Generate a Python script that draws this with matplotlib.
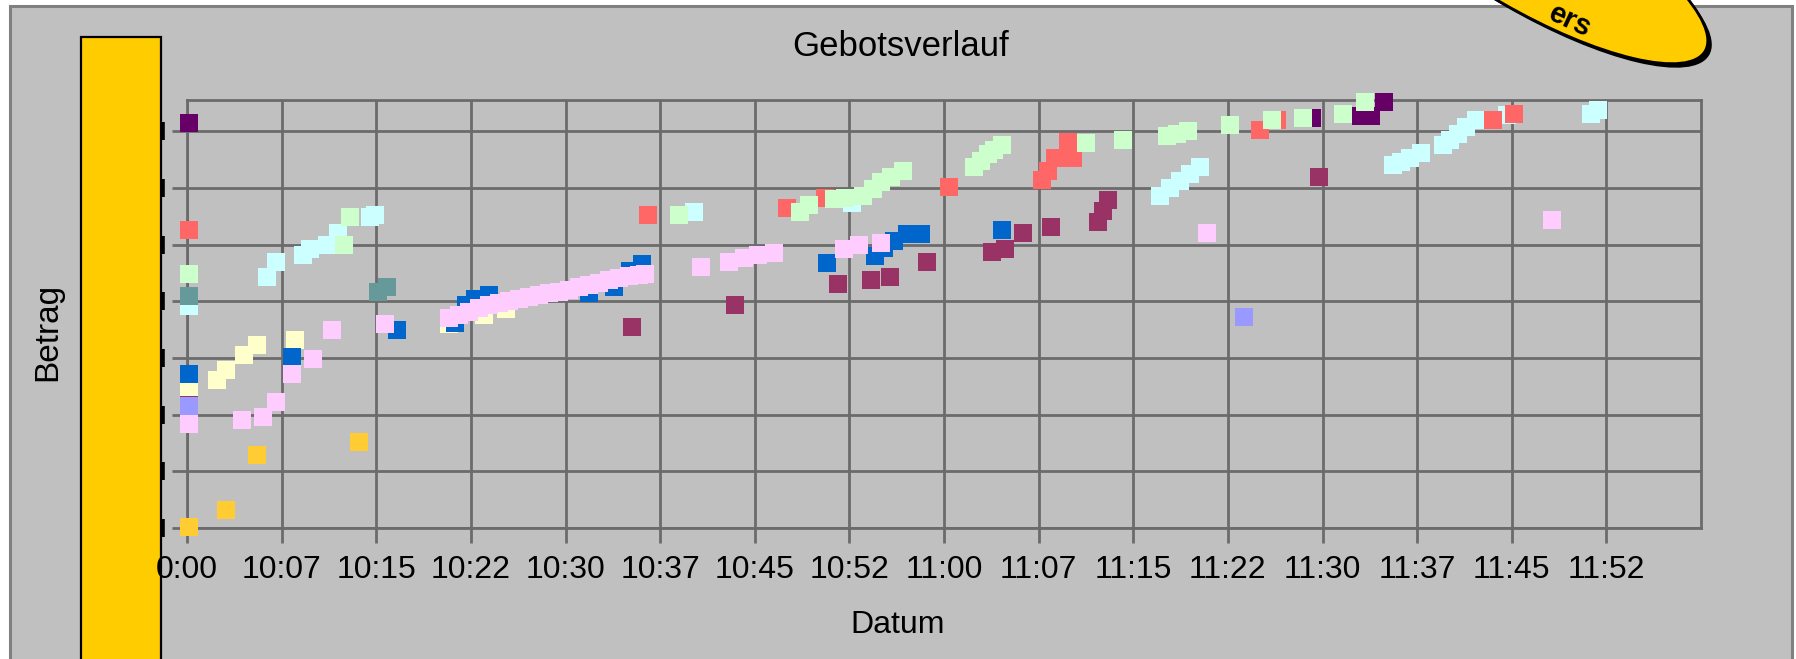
import matplotlib
matplotlib.use("Agg")
import matplotlib.pyplot as plt
from matplotlib.patches import Ellipse, Rectangle
from matplotlib.transforms import blended_transform_factory
import numpy as np

plt.rcParams['font.family'] = ['Liberation Sans', 'DejaVu Sans']

# x = minutes after 10:00, y = amount in grid steps (y labels are covered in the original)
tick_labels = ['0:00', '10:07', '10:15', '10:22', '10:30', '10:37', '10:45', '10:52',
               '11:00', '11:07', '11:15', '11:22', '11:30', '11:37', '11:45', '11:52']
tick_pos = [0, 7.5, 15, 22.5, 30, 37.5, 45, 52.5, 60, 67.5, 75, 82.5, 90, 97.5, 105, 112.5]
y_grid = [0, 1, 2, 3, 4, 5, 6, 7]

maroon_x = [0.16, 35.30, 43.45, 51.56, 54.25, 55.74, 58.69, 63.84, 64.85, 66.30, 68.52,
            72.24, 72.62, 72.97, 89.72]
maroon_y = [2.43, 3.54, 3.93, 4.31, 4.37, 4.43, 4.70, 4.87, 4.93, 5.20, 5.31,
            5.40, 5.59, 5.79, 6.19]

purple_x = [0.16, 89.18, 93.08, 93.87, 94.86]
purple_y = [7.14, 7.24, 7.27, 7.27, 7.51]

yellow_x = [0.16, 2.38, 3.09, 4.54, 5.57, 8.54, 20.77, 23.55, 25.29]
yellow_y = [2.49, 2.61, 2.79, 3.05, 3.22, 3.32, 3.60, 3.76, 3.86]

lavender_x = [0.16, 83.76]
lavender_y = [2.15, 3.72]

cyan_x = [0.16, 6.32, 7.06, 9.22, 9.75, 11.10, 11.95, 14.48, 14.90, 40.22, 52.72,
          77.14, 77.93, 78.73, 79.52, 80.33, 95.57, 96.25, 96.96, 97.82,
          99.52, 100.13, 100.77, 101.40, 102.13, 104.65, 111.31, 111.87]
cyan_y = [3.91, 4.43, 4.70, 4.81, 4.93, 5.00, 5.20, 5.48, 5.53, 5.58, 5.73,
          5.86, 5.99, 6.12, 6.24, 6.36, 6.41, 6.45, 6.53, 6.62,
          6.75, 6.84, 6.95, 7.07, 7.19, 7.28, 7.31, 7.37]

teal_x = [0.16, 15.14, 15.88]
teal_y = [4.10, 4.16, 4.26]

salmon_x = [0.16, 36.55, 47.57, 50.58, 60.41, 67.79, 68.26, 68.78, 70.24, 69.85,
            85.01, 86.42, 103.49, 105.16]
salmon_y = [5.26, 5.53, 5.64, 5.82, 6.01, 6.14, 6.30, 6.52, 6.52, 6.81,
            7.02, 7.19, 7.19, 7.30]

green_x = [0.16, 12.95, 12.45, 39.01, 48.60, 49.31, 51.30, 52.17, 53.55, 54.35, 55.02,
           55.80, 56.73, 62.39, 62.93, 63.46, 63.98, 64.57, 71.23, 74.18, 77.66,
           78.49, 79.36, 82.68, 85.99, 88.45, 91.66, 93.36]
green_y = [4.48, 5.48, 4.99, 5.53, 5.58, 5.69, 5.81, 5.82, 5.85, 5.98, 6.10,
           6.20, 6.30, 6.36, 6.48, 6.59, 6.67, 6.75, 6.80, 6.85, 6.91,
           6.95, 7.00, 7.11, 7.19, 7.24, 7.30, 7.51]

blue_x = [0.16, 8.30, 16.63, 21.25, 22.12, 22.83, 23.94, 31.87, 33.85, 35.12, 36.07,
          50.72, 54.51, 55.26, 56.01, 57.08, 58.19, 64.56]
blue_y = [2.72, 3.02, 3.49, 3.61, 3.93, 4.04, 4.11, 4.14, 4.25, 4.53, 4.66,
          4.67, 4.80, 4.94, 5.06, 5.18, 5.18, 5.25]

pink_x = [0.16, 4.32, 6.05, 7.06, 8.30, 9.99, 11.46, 15.67,
          20.77, 21.56, 22.36, 23.15, 23.94, 24.74, 25.53, 26.32, 27.11, 27.91,
          28.70, 29.49, 30.29, 31.08, 31.87, 32.66, 33.46, 34.25, 35.04, 35.84, 36.31,
          40.75, 42.93, 44.16, 45.23, 46.51, 52.06, 53.28, 54.98, 80.83, 108.16]
pink_y = [1.84, 1.90, 1.95, 2.22, 2.72, 2.99, 3.49, 3.60,
          3.70, 3.76, 3.81, 3.88, 3.93, 3.97, 4.00, 4.04, 4.07, 4.11,
          4.14, 4.16, 4.20, 4.25, 4.28, 4.32, 4.37, 4.41, 4.44, 4.46, 4.48,
          4.60, 4.70, 4.76, 4.81, 4.85, 4.93, 4.99, 5.03, 5.20, 5.43]

gold_x = [0.16, 3.09, 5.57, 13.66]
gold_y = [0.01, 0.31, 1.29, 1.51]

# drawing order = stacking order seen in the picture
series = [
    (maroon_x, maroon_y, '#993366'),
    (purple_x, purple_y, '#660066'),
    (yellow_x, yellow_y, '#ffffcc'),
    (lavender_x, lavender_y, '#9999ff'),
    (cyan_x, cyan_y, '#ccffff'),
    (teal_x, teal_y, '#669999'),
    (salmon_x, salmon_y, '#ff6666'),
    (green_x, green_y, '#ccffcc'),
    (blue_x, blue_y, '#0066cc'),
    (pink_x, pink_y, '#ffccff'),
    (gold_x, gold_y, '#ffcc33'),
]

W, H = 1796, 659
fig = plt.figure(figsize=(W / 100, H / 100), dpi=100, facecolor='white')

# background layer in pixel coordinates
bg = fig.add_axes([0, 0, 1, 1], zorder=0)
bg.set_xlim(0, W)
bg.set_ylim(H, 0)
bg.axis('off')
bg.add_patch(Rectangle((10, 6), 1782, 680, fc='#c0c0c0', ec='#808080', lw=2.2, clip_on=False))
bg.add_patch(Rectangle((81, 37), 80, 640, fc='#ffcc00', ec='black', lw=1.6, clip_on=False))
bg.add_patch(Ellipse((1536, -45), 400, 120, angle=30, fc='black', ec='none', clip_on=False))
bg.add_patch(Ellipse((1532, -49), 400, 120, angle=30, fc='#ffcc00', ec='black', lw=2, clip_on=False))
bg.text(1570, 21, 'ers', fontsize=21, fontweight='bold', rotation=-25,
        ha='center', va='center', clip_on=False)

grid_c = '#6b6b6b'
ax = fig.add_axes([187 / W, 1 - 528 / H, (1701 - 187) / W, (528 - 100) / H], zorder=1)
ax.set_facecolor('none')
ax.set_xlim(0, 120)
ax.set_ylim(0, 7.55)
ax.set_xticks(tick_pos)
ax.set_xticklabels(tick_labels)
ax.set_yticks(y_grid)
ax.set_yticklabels([])
ax.grid(True, color=grid_c, lw=2.0)
ax.set_axisbelow(True)
for s in ax.spines.values():
    s.set_color(grid_c)
    s.set_linewidth(2.0)
ax.tick_params(axis='both', color=grid_c, width=2.0, length=10.5)
ax.tick_params(axis='x', labelsize=23, pad=9, labelcolor='black')

for i, (xs, ys, c) in enumerate(series):
    ax.plot(xs, ys, ls='none', marker='s', ms=13, mew=0, color=c,
            zorder=3 + i, clip_on=False)

# ends of the covered y labels peeking out of the yellow bar
trans = blended_transform_factory(ax.transAxes, ax.transData)
ax.plot([(162.5 - 187) / (1701 - 187)] * len(y_grid), y_grid, ls='none', marker='|',
        ms=13, mew=2.6, color='black', transform=trans, clip_on=False)

fig.text(901 / W, 1 - 47 / H, 'Gebotsverlauf', ha='center', va='center', fontsize=25)
fig.text(898 / W, 1 - 625 / H, 'Datum', ha='center', va='center', fontsize=23)
fig.text(48 / W, 1 - 332 / H, 'Betrag', ha='center', va='center', rotation=90, fontsize=24)

fig.savefig('out.png', dpi=100, facecolor=fig.get_facecolor())
